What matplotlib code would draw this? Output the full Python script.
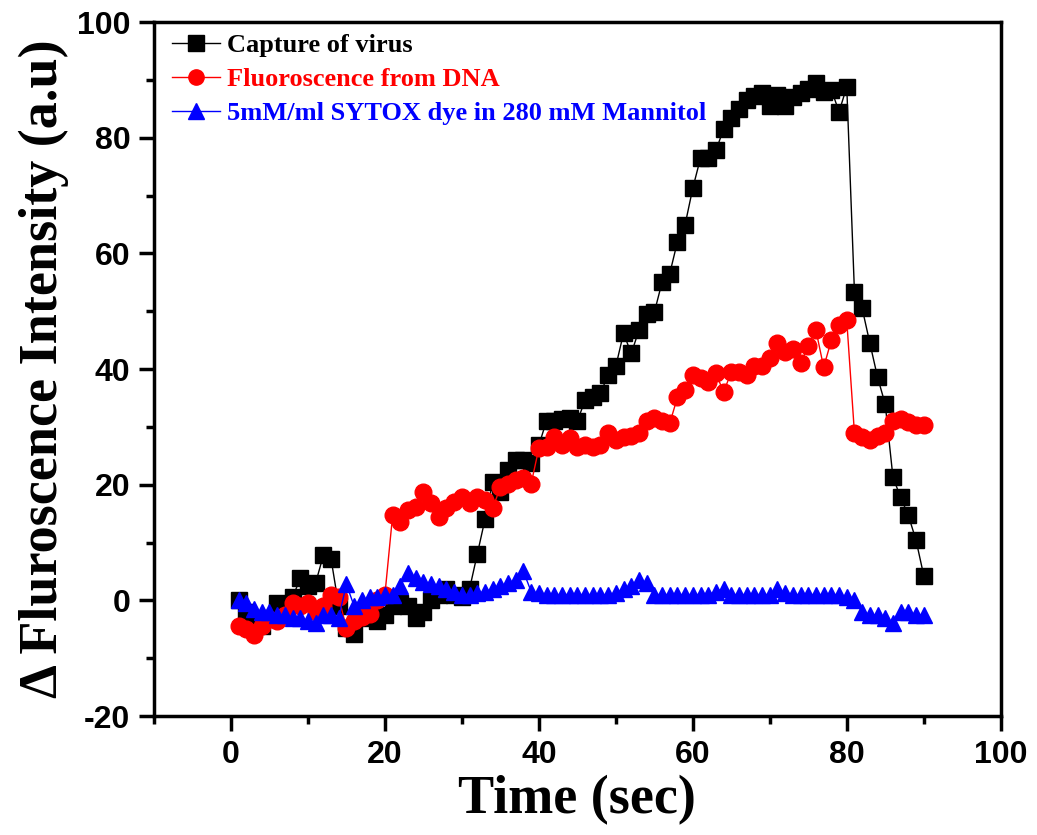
import matplotlib
matplotlib.use("Agg")
import matplotlib.pyplot as plt
from matplotlib import font_manager
from matplotlib.ticker import MultipleLocator

plt.rcParams["axes.unicode_minus"] = False

# Time axis (seconds)
time_s = list(range(1, 91))

# Capture of virus
virus = [0, -2, -4, -4.5, -3, -0.5, -1, 0.5, 3.8, 2.5,
         3, 7.8, 7.2, -1, -4.8, -5.8, -3, -2.5, -3.5, -2.5,
         -1, -0.5, -1, -3, -2, 0, 1, 2, 1, 0.5,
         2, 8, 14, 20.4, 18.7, 22.5, 24.2, 24.2, 23.7, 26.8,
         31.1, 31.1, 31.3, 31.5, 31, 34.6, 35.2, 35.8, 39, 40.5,
         46.2, 42.7, 46.7, 49.6, 49.8, 55, 56.5, 62, 65, 71.3,
         76.5, 76.5, 77.8, 81.5, 83.5, 85, 86.5, 87.2, 87.8, 85.5,
         87.4, 85.5, 87, 87.7, 88.5, 89.5, 88, 88.3, 84.5, 88.8,
         53.3, 50.5, 44.5, 38.6, 33.9, 21.3, 17.8, 14.7, 10.4, 4.3]

# Fluorescence from DNA
dna = [-4.5, -5, -6, -4.5, -3.2, -3.5, -2.5, -0.5, -1, -0.5,
       -2, -1, 0.9, 0.5, -4.8, -3.5, -2.8, -2.3, 0, 1,
       14.7, 13.5, 15.6, 16.1, 18.7, 16.8, 14.4, 15.9, 17, 17.8,
       16.8, 17.8, 17.3, 15.9, 19.6, 20.2, 20.8, 21.1, 20.2, 26.3,
       26.5, 28.2, 26.8, 28, 26.5, 26.8, 26.5, 26.8, 28.9, 27.7,
       28.2, 28.5, 28.9, 31.1, 31.5, 31, 30.6, 35.1, 36.3, 38.9,
       38.4, 37.7, 39.3, 36, 39.5, 39.5, 39, 40.5, 40.5, 42,
       44.5, 43, 43.5, 41, 44, 46.7, 40.3, 45, 47.6, 48.4,
       28.9, 28.2, 27.7, 28.5, 28.9, 31.1, 31.3, 30.8, 30.3, 30.3]

# SYTOX dye control
sytox = [0, -0.5, -1.5, -2, -2, -2.5, -2.5, -3, -3, -3.5,
         -4, -2.5, -2.5, -3, 2.8, -1, 0, 0.5, 0.5, 1,
         1, 2.5, 4.8, 3.8, 3.2, 2.8, 2.5, 2, 1.5, 1,
         1, 1.2, 1.5, 2, 2.5, 3, 3.5, 5, 1.5, 1.2,
         1, 1, 1, 1, 1, 1, 1, 1, 1, 1.2,
         2, 2.5, 3.5, 3, 1, 1, 1, 1, 1, 1,
         1, 1, 1.5, 2, 1, 1, 1, 1, 1, 1,
         2, 1.2, 1, 1, 1, 1, 1, 1, 1, 0.5,
         0, -2, -2.5, -2.5, -3, -4, -2, -2, -2.5, -2.5]

labels = ["Capture of virus", "Fluoroscence from DNA",
          "5mM/ml SYTOX dye in 280 mM Mannitol"]

available = {f.name for f in font_manager.fontManager.ttflist}
tick_family = "Liberation Sans Narrow" if "Liberation Sans Narrow" in available else "Liberation Sans"
serif_family = "Liberation Serif"

fig = plt.figure(figsize=(10.37, 8.35), dpi=100)
ax = fig.add_axes([0.1485, 0.1425, 0.8165, 0.831])

ax.plot(time_s, virus, color="black", lw=1.0, marker="s", ms=11,
        mfc="black", mec="black", label=labels[0])
ax.plot(time_s, dna, color="red", lw=1.0, marker="o", ms=12,
        mfc="red", mec="red", label=labels[1])
ax.plot(time_s, sytox, color="blue", lw=1.0, marker="^", ms=12,
        mfc="blue", mec="blue", label=labels[2])

ax.set_xlim(-10, 100)
ax.set_ylim(-20, 100)
ax.xaxis.set_major_locator(MultipleLocator(20))
ax.xaxis.set_minor_locator(MultipleLocator(10))
ax.yaxis.set_major_locator(MultipleLocator(20))
ax.yaxis.set_minor_locator(MultipleLocator(10))
ax.set_xticks([0, 20, 40, 60, 80, 100])

for s in ax.spines.values():
    s.set_linewidth(2.5)
ax.tick_params(which="major", direction="out", length=11, width=2.5,
               top=False, right=False, pad=6)
ax.tick_params(which="minor", direction="out", length=6, width=2.5,
               top=False, right=False)

for lab in ax.get_xticklabels() + ax.get_yticklabels():
    lab.set_fontfamily(tick_family)
    lab.set_fontweight("bold")
    lab.set_fontsize(23)

ax.set_xlabel("Time (sec)", fontfamily=serif_family, fontweight="bold",
              fontsize=39, labelpad=4)
ax.set_ylabel("\u0394 Fluroscence Intensity (a.u)", fontfamily=serif_family,
              fontweight="bold", fontsize=39, labelpad=6)

leg = ax.legend(loc="upper left", bbox_to_anchor=(0.0, 1.01), frameon=False,
                prop={"family": serif_family, "weight": "bold", "size": 19},
                handlelength=1.8, handletextpad=0.25, labelspacing=0.4,
                borderaxespad=0.3)
for txt, c in zip(leg.get_texts(), ["black", "red", "blue"]):
    txt.set_color(c)
for h in leg.legend_handles:
    h.set_markersize(11)

fig.savefig("out.png", dpi=100)
